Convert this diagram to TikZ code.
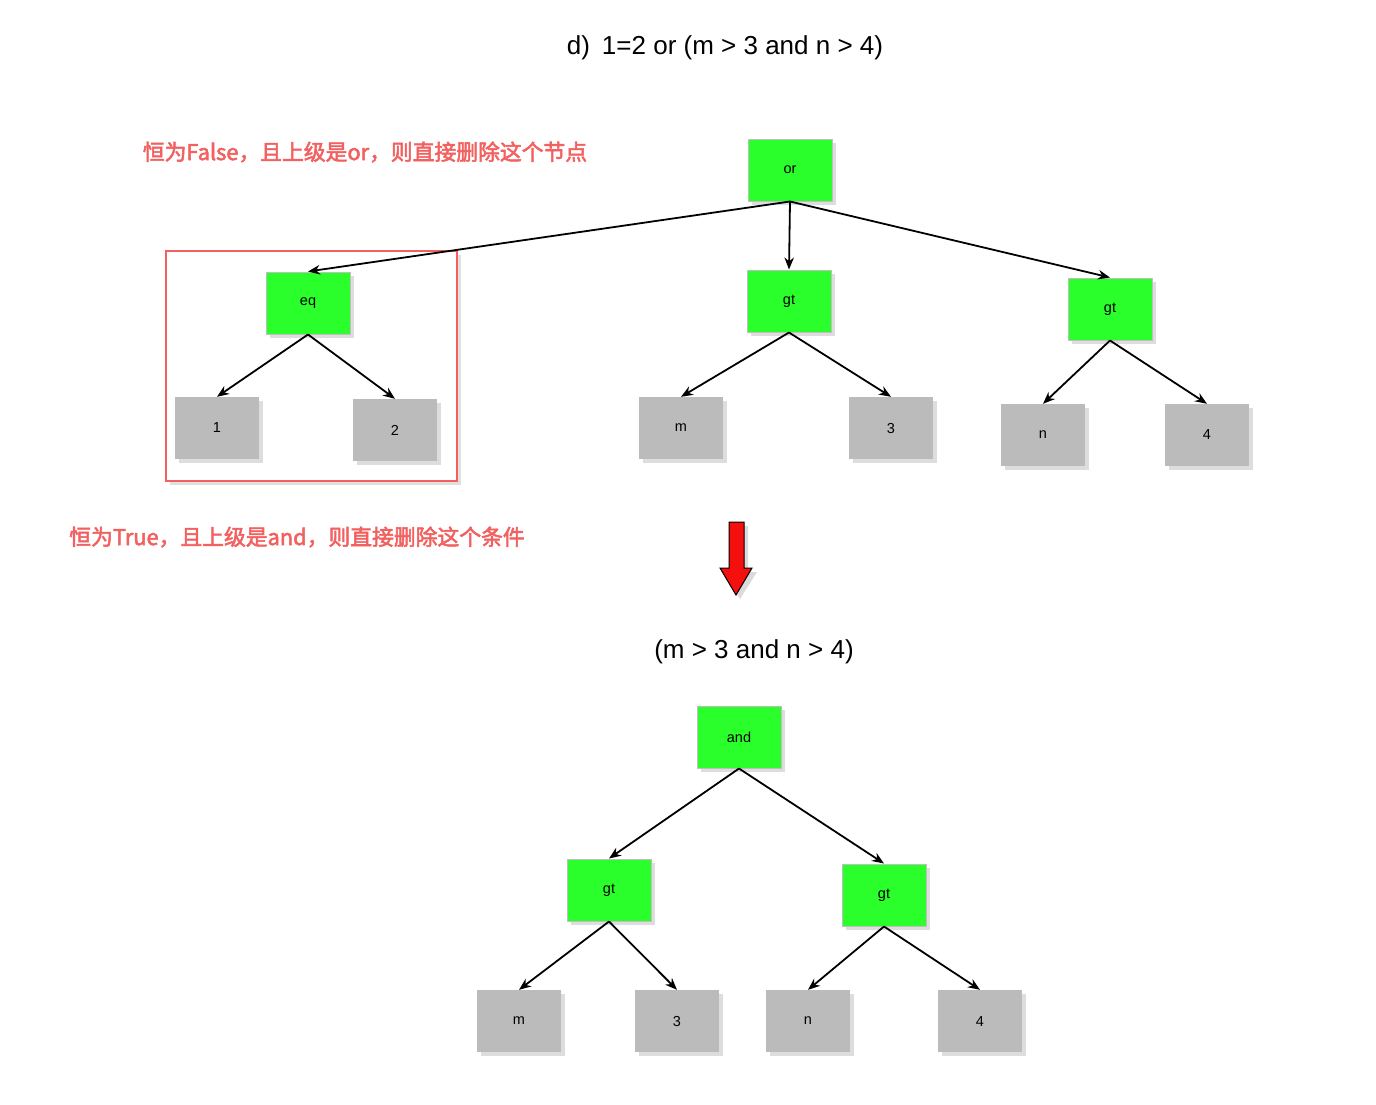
\documentclass[tikz,border=0pt]{standalone}
\usepackage{fontspec}
\setmainfont{Liberation Sans}
\newfontfamily\cjk[FakeBold=2.5]{Noto Sans CJK SC}
\usetikzlibrary{shadows,arrows.meta}
\definecolor{opgreen}{HTML}{2BFF2B}
\definecolor{leafgray}{HTML}{BBBBBB}
\definecolor{notered}{HTML}{F26060}
\definecolor{arrowred}{HTML}{F50F0F}
\tikzset{
  x=1pt,y=-1pt,
  base/.style={minimum width=84pt,minimum height=62pt,inner sep=0pt,font=\fontsize{14.5}{16}\selectfont,
    drop shadow={shadow xshift=4pt,shadow yshift=-4pt,opacity=0.22,fill=black!60}},
  opnode/.style={base,fill=opgreen,draw=black!25,line width=1pt},
  leaf/.style={base,fill=leafgray,draw=none},
  edge/.style={-{Stealth[length=12pt,width=9.5pt]},line width=1.8pt,black},
  note/.style={text=notered,font=\cjk\fontsize{21.8}{24}\selectfont},
  title/.style={font=\fontsize{26}{30}\selectfont}
}
\begin{document}
\begin{tikzpicture}
\useasboundingbox (0,0) rectangle (1376,1104);
% titles and notes
\node[title] (t1) at (725,48) {d)\hspace{12pt}1=2 or (m > 3 and n > 4)};
\node[title] (t2) at (754,652) {(m > 3 and n > 4)};
\node[note] (n1) at (365,152) {恒为False，且上级是or，则直接删除这个节点};
\node[note] (n2) at (297,537) {恒为True，且上级是and，则直接删除这个条件};
% red frame
\node[draw=notered,line width=1.5pt,minimum width=291pt,minimum height=230pt,inner sep=0pt,
  drop shadow={shadow xshift=4pt,shadow yshift=-4pt,opacity=0.2,fill=black!60}, fill=white] (frame) at (311.5,366) {};
% top tree
\node[opnode] (or) at (790,170) {or};
\node[opnode] (eq) at (308,303) {eq};
\node[opnode] (gA) at (789,301) {gt};
\node[opnode] (gB) at (1110,309) {gt};
\node[leaf] (l1) at (217,428) {1};
\node[leaf] (l2) at (395,430) {2};
\node[leaf] (lm) at (681,428) {m};
\node[leaf] (l3) at (891,428) {3};
\node[leaf] (ln) at (1043,435) {n};
\node[leaf] (l4) at (1207,435) {4};
\draw[edge] (or.south) -- (eq.north);
\draw[edge] (or.south) -- (gA.north);
\draw[edge] (or.south) -- (gB.north);
\draw[edge] (eq.south) -- (l1.north);
\draw[edge] (eq.south) -- (l2.north);
\draw[edge] (gA.south) -- (lm.north);
\draw[edge] (gA.south) -- (l3.north);
\draw[edge] (gB.south) -- (ln.north);
\draw[edge] (gB.south) -- (l4.north);
% red arrow
\fill[black!40,opacity=0.35] (733,526) -- (748,526) -- (748,572) -- (757,572) -- (740,599) -- (723,572) -- (733,572) -- cycle;
\draw[fill=arrowred,line width=1pt,line join=miter] (729,522) -- (744,522) -- (744,568) -- (752,568) -- (736,595) -- (720,568) -- (729,568) -- cycle;
% bottom tree
\node[opnode] (and) at (739,737) {and};
\node[opnode] (gC) at (609,890) {gt};
\node[opnode] (gD) at (884,895) {gt};
\node[leaf] (bm) at (519,1021) {m};
\node[leaf] (b3) at (677,1021) {3};
\node[leaf] (bn) at (808,1021) {n};
\node[leaf] (b4) at (980,1021) {4};
\draw[edge] (and.south) -- (gC.north);
\draw[edge] (and.south) -- (gD.north);
\draw[edge] (gC.south) -- (bm.north);
\draw[edge] (gC.south) -- (b3.north);
\draw[edge] (gD.south) -- (bn.north);
\draw[edge] (gD.south) -- (b4.north);
\end{tikzpicture}
\end{document}
